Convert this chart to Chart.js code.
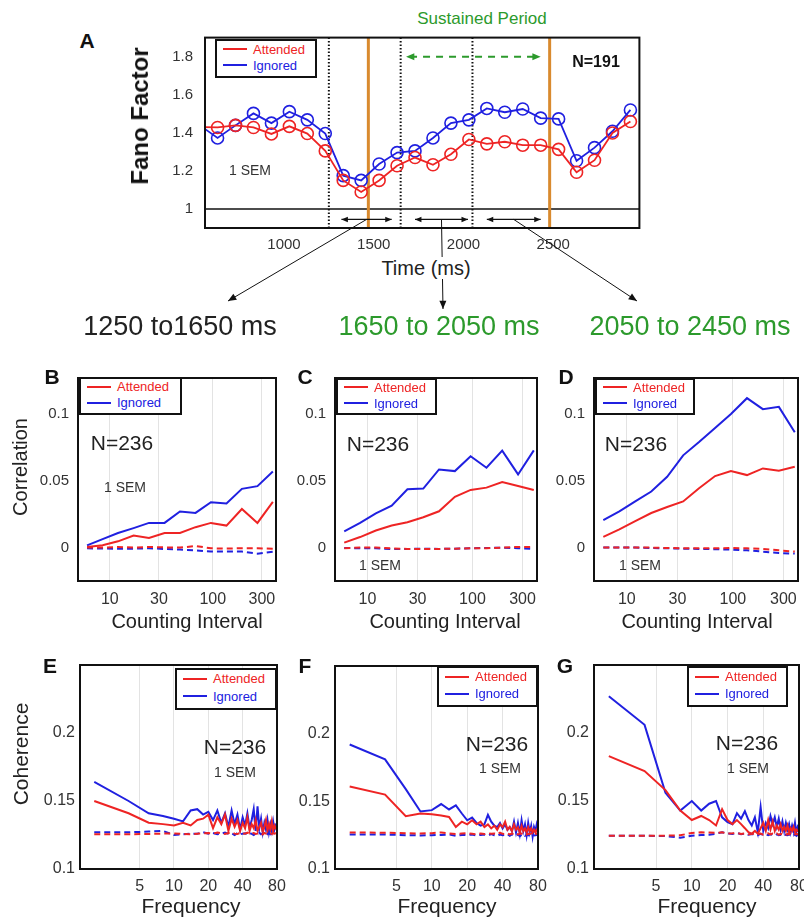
<!DOCTYPE html>
<html>
<head>
<meta charset="utf-8">
<script src="https://cdn.jsdelivr.net/npm/chart.js@4.4.1/dist/chart.umd.min.js"></script>
<style>
  html, body { margin: 0; padding: 0; background: #fff; overflow: hidden; }
  #page { position: relative; width: 804px; height: 921px; font-family: 'Liberation Sans', Arial, sans-serif; color: #222; }
  canvas { position: absolute; }
  .t { position: absolute; white-space: nowrap; line-height: 1; transform: translate(-50%, -50%); }
  .legend { position: absolute; box-sizing: border-box; border: 2px solid #111; background: #fff; font-size: 13px; }
  .legend .row { position: absolute; left: 6px; display: flex; align-items: center; line-height: 1; }
  .legend .sw { display: inline-block; width: 24px; height: 2px; margin-right: 6px; }
</style>
</head>
<body>
<div id="page"></div>
<script>
// ---- data ----
// A: Fano factor over the trial (ms)
const fanoTime = [530, 630, 730, 830, 930, 1030, 1130, 1230, 1330, 1430, 1530, 1630, 1730, 1830, 1930, 2030, 2130, 2230, 2330, 2430, 2530, 2630, 2730, 2830, 2930];
const fanoAttended = [1.43, 1.428, 1.439, 1.428, 1.394, 1.434, 1.396, 1.305, 1.150, 1.089, 1.150, 1.227, 1.270, 1.232, 1.287, 1.365, 1.342, 1.353, 1.335, 1.335, 1.313, 1.193, 1.256, 1.399, 1.459];
const fanoIgnored = [1.44, 1.373, 1.439, 1.502, 1.451, 1.511, 1.468, 1.396, 1.175, 1.150, 1.236, 1.296, 1.305, 1.373, 1.451, 1.468, 1.528, 1.508, 1.525, 1.477, 1.473, 1.253, 1.322, 1.408, 1.520];
const fanoXTicks = [1000, 1500, 2000, 2500];
const fanoYTicks = [1, 1.2, 1.4, 1.6, 1.8];
const windowEdges = [1250, 1650, 2050];
const eventTimes = [1470, 2480];
const windowArrowStart = [1320, 1730, 2130];
const windowArrowEnd = [1600, 2025, 2430];
const sustainedPeriod = [1680, 2430];

// B-D: spike count correlation vs counting interval (ms)
const countingInterval = [6, 8.5, 12, 17, 24, 34, 48, 68, 96, 136, 192, 272, 384];
const corrXTicks = [10, 30, 100, 300];
const corrYTicks = [0, 0.05, 0.1];
const corrB_att = [0.0005, 0.0017, 0.0047, 0.0091, 0.0072, 0.0109, 0.0109, 0.0153, 0.0185, 0.0165, 0.0289, 0.0185, 0.0343];
const corrB_ign = [0.0017, 0.0064, 0.0109, 0.0146, 0.0185, 0.0185, 0.027, 0.026, 0.034, 0.033, 0.044, 0.046, 0.057];
const corrB_attShuf = [0, 0, 0.0005, 0, 0.0005, 0.0002, 0, 0.0012, -0.0005, -0.0007, -0.0005, -0.0005, -0.0008];
const corrB_ignShuf = [-0.0005, -0.0007, -0.0008, -0.0008, -0.0005, -0.001, -0.0015, -0.002, -0.003, -0.003, -0.003, -0.0045, -0.003];
const corrC_att = [0.0037, 0.0079, 0.0128, 0.0165, 0.019, 0.0227, 0.0272, 0.038, 0.0432, 0.0449, 0.0491, 0.0462, 0.0432];
const corrC_ign = [0.0121, 0.0185, 0.0257, 0.0314, 0.0437, 0.0442, 0.0585, 0.0573, 0.0684, 0.0598, 0.0726, 0.0548, 0.0728];
const corrC_attShuf = [-0.0005, 0, 0, -0.0005, -0.001, -0.001, -0.001, -0.0008, -0.0005, -0.0005, 0, 0.0005, 0.0005];
const corrC_ignShuf = [-0.0003, -0.0005, -0.0005, -0.001, -0.001, -0.0008, -0.001, -0.0008, -0.0005, -0.0003, 0, -0.0005, -0.001];
const corrD_att = [0.0081, 0.0136, 0.0198, 0.0259, 0.0304, 0.0346, 0.0444, 0.0536, 0.0573, 0.0543, 0.0593, 0.0575, 0.0605];
const corrD_ign = [0.0205, 0.0272, 0.0346, 0.042, 0.053, 0.0691, 0.079, 0.0896, 0.1, 0.1119, 0.1037, 0.1054, 0.0864];
const corrD_attShuf = [0, 0, 0, 0, -0.0003, -0.0005, -0.0005, -0.0005, -0.0003, -0.0005, -0.001, -0.002, -0.003];
const corrD_ignShuf = [0, 0, 0, -0.0003, -0.0005, -0.0008, -0.001, -0.0012, -0.0015, -0.002, -0.003, -0.004, -0.0045];

// E-G: coherence vs frequency (Hz)
const frequency = [2, 4, 6, 8, 10, 12, 14, 16, 18, 20, 22, 24, 26, 28, 30, 32, 34, 36, 38, 40, 42, 44, 46, 48, 50, 52, 54, 56, 58, 60, 62, 64, 66, 68, 70, 72, 74, 76, 78, 80];
const cohXTicks = [5, 10, 20, 40, 80];
const cohYTicks = [0.1, 0.15, 0.2];
const cohE_att = [0.150, 0.141, 0.134, 0.133, 0.132, 0.134, 0.132, 0.136, 0.137, 0.140, 0.130, 0.138, 0.133, 0.140, 0.128, 0.137, 0.131, 0.136, 0.128, 0.134, 0.130, 0.138, 0.128, 0.133, 0.130, 0.136, 0.128, 0.131, 0.134, 0.127, 0.131, 0.136, 0.128, 0.133, 0.129, 0.135, 0.128, 0.132, 0.130, 0.131];
const cohE_ign = [0.164, 0.150, 0.141, 0.139, 0.137, 0.135, 0.143, 0.144, 0.140, 0.142, 0.136, 0.143, 0.134, 0.141, 0.131, 0.143, 0.133, 0.140, 0.129, 0.138, 0.132, 0.141, 0.130, 0.136, 0.144, 0.128, 0.146, 0.130, 0.137, 0.127, 0.134, 0.129, 0.136, 0.127, 0.133, 0.128, 0.135, 0.129, 0.132, 0.130];
const cohE_attShuf = [0.1255, 0.1255, 0.1258, 0.126, 0.1262, 0.1258, 0.1255, 0.126, 0.1262, 0.1265, 0.126, 0.1268, 0.1262, 0.1258, 0.1265, 0.127, 0.126, 0.1258, 0.1265, 0.1262, 0.126, 0.1268, 0.1258, 0.1262, 0.1265, 0.1258, 0.126, 0.1268, 0.1262, 0.1255, 0.1265, 0.126, 0.1258, 0.1266, 0.1262, 0.1258, 0.1264, 0.126, 0.1262, 0.126];
const cohE_ignShuf = [0.127, 0.127, 0.1275, 0.128, 0.125, 0.1255, 0.126, 0.126, 0.127, 0.126, 0.1265, 0.1255, 0.126, 0.1268, 0.1258, 0.1262, 0.125, 0.1265, 0.1255, 0.126, 0.1262, 0.1255, 0.1265, 0.1258, 0.125, 0.1262, 0.1258, 0.1266, 0.1255, 0.126, 0.1252, 0.1264, 0.1258, 0.126, 0.1255, 0.1262, 0.1258, 0.126, 0.1255, 0.126];
const cohF_att = [0.161, 0.155, 0.139, 0.141, 0.1405, 0.1395, 0.1385, 0.131, 0.135, 0.133, 0.136, 0.133, 0.135, 0.131, 0.133, 0.130, 0.132, 0.129, 0.133, 0.131, 0.135, 0.129, 0.131, 0.128, 0.133, 0.129, 0.131, 0.127, 0.132, 0.128, 0.130, 0.127, 0.131, 0.128, 0.130, 0.127, 0.129, 0.127, 0.129, 0.128];
const cohF_ign = [0.192, 0.181, 0.159, 0.1425, 0.1435, 0.148, 0.144, 0.147, 0.141, 0.136, 0.138, 0.134, 0.132, 0.133, 0.140, 0.135, 0.132, 0.131, 0.134, 0.130, 0.133, 0.129, 0.131, 0.128, 0.135, 0.127, 0.134, 0.126, 0.136, 0.128, 0.133, 0.125, 0.134, 0.127, 0.132, 0.124, 0.131, 0.128, 0.133, 0.129];
const cohF_attShuf = [0.127, 0.1268, 0.1265, 0.1262, 0.1265, 0.127, 0.1262, 0.1258, 0.1262, 0.1265, 0.126, 0.1255, 0.1262, 0.1258, 0.1265, 0.126, 0.1262, 0.1255, 0.1268, 0.126, 0.1258, 0.1264, 0.1255, 0.1262, 0.1258, 0.1265, 0.1255, 0.126, 0.1262, 0.1258, 0.1264, 0.1255, 0.126, 0.1258, 0.1262, 0.1255, 0.126, 0.1258, 0.1262, 0.126];
const cohF_ignShuf = [0.1255, 0.1255, 0.125, 0.1248, 0.125, 0.1252, 0.1255, 0.1245, 0.1252, 0.125, 0.1255, 0.1248, 0.1252, 0.1255, 0.1248, 0.1258, 0.125, 0.1245, 0.1255, 0.125, 0.1252, 0.1258, 0.1245, 0.1255, 0.125, 0.1248, 0.1255, 0.1242, 0.1252, 0.1258, 0.1245, 0.1252, 0.1248, 0.1255, 0.1245, 0.1252, 0.1248, 0.125, 0.1252, 0.1248];
const cohG_att = [0.183, 0.172, 0.158, 0.143, 0.136, 0.139, 0.136, 0.132, 0.144, 0.136, 0.133, 0.136, 0.133, 0.130, 0.127, 0.126, 0.128, 0.126, 0.130, 0.134, 0.128, 0.136, 0.129, 0.135, 0.128, 0.132, 0.129, 0.133, 0.128, 0.131, 0.128, 0.132, 0.127, 0.130, 0.128, 0.131, 0.127, 0.129, 0.128, 0.128];
const cohG_ign = [0.227, 0.206, 0.156, 0.143, 0.150, 0.143, 0.148, 0.150, 0.138, 0.1345, 0.133, 0.141, 0.137, 0.1425, 0.136, 0.132, 0.138, 0.127, 0.1455, 0.128, 0.134, 0.130, 0.139, 0.133, 0.138, 0.131, 0.137, 0.129, 0.135, 0.128, 0.134, 0.129, 0.133, 0.127, 0.132, 0.128, 0.134, 0.127, 0.131, 0.129];
const cohG_attShuf = [0.1245, 0.1245, 0.1245, 0.1248, 0.1265, 0.127, 0.1268, 0.1265, 0.127, 0.126, 0.1262, 0.1265, 0.1258, 0.1262, 0.1255, 0.1258, 0.1262, 0.1255, 0.126, 0.1252, 0.1258, 0.1262, 0.1255, 0.126, 0.1255, 0.1262, 0.1252, 0.1258, 0.1255, 0.126, 0.1252, 0.1258, 0.1255, 0.1262, 0.1252, 0.1258, 0.1255, 0.126, 0.1255, 0.1258];
const cohG_ignShuf = [0.1245, 0.1245, 0.1242, 0.123, 0.1245, 0.125, 0.1252, 0.126, 0.127, 0.1262, 0.1258, 0.1265, 0.1255, 0.126, 0.1252, 0.1258, 0.1255, 0.1248, 0.1258, 0.125, 0.1255, 0.1248, 0.1255, 0.125, 0.1245, 0.1255, 0.1248, 0.1252, 0.1245, 0.1255, 0.125, 0.1248, 0.1255, 0.1245, 0.1252, 0.1248, 0.1255, 0.1245, 0.125, 0.1248];

// ---- style ----
const RED = '#ee2424';
const BLUE = '#2020e0';
const GREEN = '#2c9a2c';
const ORANGE = '#d98a2e';
const FONT = "'Liberation Sans', Arial, sans-serif";
Chart.defaults.font.family = FONT;

const page = document.getElementById('page');

function addText(txt, cx, cy, css) {
  const d = document.createElement('div');
  d.className = 't';
  d.textContent = txt;
  d.style.left = cx + 'px';
  d.style.top = cy + 'px';
  Object.assign(d.style, css || {});
  page.appendChild(d);
  return d;
}

function addLegend(left, top, w, h) {
  const box = document.createElement('div');
  box.className = 'legend';
  box.style.left = left + 'px';
  box.style.top = top + 'px';
  box.style.width = w + 'px';
  box.style.height = h + 'px';
  const rows = [['Attended', RED, 0.27], ['Ignored', BLUE, 0.69]];
  rows.forEach(([name, col, f]) => {
    const r = document.createElement('div');
    r.className = 'row';
    r.style.top = (h * f - 9) + 'px';
    r.innerHTML = '<span class="sw" style="background:' + col + '"></span><span style="color:' + col + '">' + name + '</span>';
    box.appendChild(r);
  });
  page.appendChild(box);
}

function line(ctx, x1, y1, x2, y2) {
  ctx.beginPath(); ctx.moveTo(x1, y1); ctx.lineTo(x2, y2); ctx.stroke();
}

function head(ctx, x1, y1, x2, y2, size) {
  const a = Math.atan2(y2 - y1, x2 - x1);
  ctx.beginPath();
  ctx.moveTo(x2, y2);
  ctx.lineTo(x2 - size * Math.cos(a - 0.4), y2 - size * Math.sin(a - 0.4));
  ctx.lineTo(x2 - size * Math.cos(a + 0.4), y2 - size * Math.sin(a + 0.4));
  ctx.closePath();
  ctx.fill();
}

// black frame around every plot
const framePlugin = {
  id: 'frame',
  afterDraw(chart) {
    const a = chart.chartArea, ctx = chart.ctx;
    ctx.save();
    ctx.strokeStyle = '#111';
    ctx.lineWidth = 2;
    ctx.strokeRect(a.left, a.top, a.right - a.left, a.bottom - a.top);
    ctx.restore();
  }
};

// window markers, arrows and connectors of panel A
const fanoMarks = {
  id: 'fanoMarks',
  beforeDatasetsDraw(chart) {
    const { ctx, chartArea: a, scales: { x, y } } = chart;
    ctx.save();
    ctx.strokeStyle = '#111';
    ctx.lineWidth = 1.5;
    const y1 = y.getPixelForValue(1);
    line(ctx, a.left, y1, a.right, y1);
    ctx.lineWidth = 2;
    ctx.setLineDash([1.5, 2]);
    windowEdges.forEach(t => {
      const px = x.getPixelForValue(t);
      line(ctx, px, a.top, px, a.bottom);
    });
    ctx.setLineDash([]);
    ctx.strokeStyle = ORANGE;
    ctx.lineWidth = 3;
    eventTimes.forEach(t => {
      const px = x.getPixelForValue(t);
      line(ctx, px, a.top, px, a.bottom);
    });
    ctx.restore();
  },
  afterDraw(chart) {
    const { ctx, scales: { x, y } } = chart;
    ctx.save();
    // black double arrows for the analysis windows
    ctx.strokeStyle = '#111'; ctx.fillStyle = '#111'; ctx.lineWidth = 1.2;
    const ya = y.getPixelForValue(0.945);
    const ox = chart.canvas.offsetLeft, oy = chart.canvas.offsetTop;
    const labelTips = [[228, 301], [443, 309], [637, 301]];
    windowArrowStart.forEach((s, i) => {
      const p1 = x.getPixelForValue(s), p2 = x.getPixelForValue(windowArrowEnd[i]);
      line(ctx, p1, ya, p2, ya);
      head(ctx, p2, ya, p1, ya, 7);
      head(ctx, p1, ya, p2, ya, 7);
      // connector down to the window label
      const mid = (p1 + p2) / 2;
      const tx = labelTips[i][0] - ox, ty = labelTips[i][1] - oy;
      ctx.lineWidth = 1;
      line(ctx, mid, ya, tx, ty);
      head(ctx, mid, ya, tx, ty, 9);
      ctx.lineWidth = 1.2;
    });
    // green dashed arrow: sustained period
    ctx.strokeStyle = GREEN; ctx.fillStyle = GREEN; ctx.lineWidth = 2;
    const yg = y.getPixelForValue(1.8);
    const g1 = x.getPixelForValue(sustainedPeriod[0]), g2 = x.getPixelForValue(sustainedPeriod[1]);
    ctx.setLineDash([7, 6]);
    line(ctx, g1 + 4, yg, g2 - 4, yg);
    ctx.setLineDash([]);
    head(ctx, g2, yg, g1, yg, 9);
    head(ctx, g1, yg, g2, yg, 9);
    ctx.restore();
  }
};

function axis(type, min, max, ticks, pos, size, pad, fontSize, grid) {
  return {
    type, min, max, position: pos,
    afterBuildTicks: s => { s.ticks = ticks.map(v => ({ value: v })); },
    afterFit: s => {
      if (pos === 'bottom') { s.height = size; s.paddingLeft = 0; s.paddingRight = 0; }
      else { s.width = size; s.paddingTop = 0; s.paddingBottom = 0; }
    },
    ticks: { callback: v => String(v), padding: pad, color: '#333', autoSkip: false, maxRotation: 0, font: { size: fontSize } },
    grid: grid ? { color: '#e3e3e3', lineWidth: 1, drawTicks: false } : { display: false, drawTicks: false },
    border: { display: false }
  };
}

// box = [left, top, right, bottom] of the plot area on the page
function panel(box, x, y, datasets, extra) {
  extra = extra || {};
  const yW = 60, padT = 4, padR = extra.padR || 12, xH = extra.xH || 32, padB = extra.padB || 0;
  const c = document.createElement('canvas');
  c.width = box[2] - box[0] + yW + padR;
  c.height = box[3] - box[1] + padT + xH + padB;
  c.style.left = (box[0] - yW) + 'px';
  c.style.top = (box[1] - padT) + 'px';
  page.appendChild(c);
  return new Chart(c, {
    type: 'line',
    data: { datasets },
    options: {
      responsive: false,
      animation: false,
      devicePixelRatio: 1,
      layout: { padding: { top: padT, right: padR, bottom: padB, left: 0 } },
      plugins: { legend: { display: false }, tooltip: { enabled: false } },
      scales: { x, y }
    },
    plugins: [framePlugin].concat(extra.plugins || [])
  });
}

function series(xs, ys, color, dashed) {
  return {
    data: xs.map((v, i) => ({ x: v, y: ys[i] })),
    borderColor: color,
    borderWidth: 2,
    borderDash: dashed ? [6, 4] : [],
    pointRadius: 0,
    tension: 0
  };
}

function fanoSeries(ys, color) {
  return {
    data: fanoTime.map((t, i) => ({ x: t, y: ys[i] })),
    borderColor: color,
    borderWidth: 1.8,
    pointStyle: 'circle',
    pointRadius: ctx => (ctx.raw && ctx.raw.x < 560 ? 0 : 6),
    pointBorderWidth: 1.6,
    pointBorderColor: color,
    pointBackgroundColor: 'rgba(0,0,0,0)',
    tension: 0
  };
}

// ---- panel A ----
panel([205, 34, 643, 228],
  axis('linear', 560, 2980, fanoXTicks, 'bottom', 50, 8, 15, false),
  axis('linear', 0.9, 1.9, fanoYTicks, 'left', 60, 12, 15, false),
  [fanoSeries(fanoAttended, RED), fanoSeries(fanoIgnored, BLUE)],
  { padR: 4, padB: 60, xH: 50, plugins: [fanoMarks] });

// ---- panels B-D ----
const corrPanels = [
  [[78, 378, 276, 581], corrB_att, corrB_ign, corrB_attShuf, corrB_ignShuf],
  [[335, 378, 537, 581], corrC_att, corrC_ign, corrC_attShuf, corrC_ignShuf],
  [[594, 378, 798, 581], corrD_att, corrD_ign, corrD_attShuf, corrD_ignShuf]
];
corrPanels.forEach(([box, att, ign, attS, ignS]) => {
  panel(box,
    axis('logarithmic', 4.9, 412, corrXTicks, 'bottom', 32, 9, 16, true),
    axis('linear', -0.025, 0.127, corrYTicks, 'left', 60, 9, 15, false),
    [series(countingInterval, attS, RED, true), series(countingInterval, ignS, BLUE, true),
     series(countingInterval, att, RED, false), series(countingInterval, ign, BLUE, false)]);
});

// ---- panels E-G ----
const cohPanels = [
  [[80, 665, 277, 869], cohE_att, cohE_ign, cohE_attShuf, cohE_ignShuf],
  [[335, 666, 538, 869], cohF_att, cohF_ign, cohF_attShuf, cohF_ignShuf],
  [[594, 665, 799, 869], cohG_att, cohG_ign, cohG_attShuf, cohG_ignShuf]
];
cohPanels.forEach(([box, att, ign, attS, ignS]) => {
  panel(box,
    axis('logarithmic', 1.5, 80, cohXTicks, 'bottom', 32, 8, 16, true),
    axis('linear', 0.1, 0.25, cohYTicks, 'left', 60, 5, 16, false),
    [series(frequency, attS, RED, true), series(frequency, ignS, BLUE, true),
     series(frequency, att, RED, false), series(frequency, ign, BLUE, false)]);
});

// ---- legends ----
addLegend(215, 39, 102, 39);
addLegend(79, 377, 103, 38);
addLegend(336, 378, 101, 37);
addLegend(595, 378, 100, 37);
addLegend(175, 668, 102, 42);
addLegend(437, 666, 101, 41);
addLegend(687, 666, 101, 41);

// ---- text ----
const letterCss = { fontWeight: 'bold', fontSize: '21px', color: '#111' };
addText('A', 87, 40, letterCss);
addText('B', 52, 376, letterCss);
addText('C', 305, 376, letterCss);
addText('D', 566, 376, letterCss);
addText('E', 50, 665, letterCss);
addText('F', 305, 665, letterCss);
addText('G', 565, 665, letterCss);

addText('Sustained Period', 482, 18, { fontSize: '17px', color: GREEN });
addText('N=191', 596, 62, { fontSize: '16px', fontWeight: 'bold', color: '#111' });
addText('1 SEM', 250, 170, { fontSize: '14px', color: '#333' });
addText('Fano Factor', 140, 116, { fontSize: '24px', fontWeight: 'bold', color: '#111', transform: 'translate(-50%, -50%) rotate(-90deg)' });
addText('Time (ms)', 426, 268, { fontSize: '20px', background: '#fff', padding: '1px 2px' });

addText('1250 to1650 ms', 180, 326, { fontSize: '27px', color: '#222' });
addText('1650 to 2050 ms', 439, 326, { fontSize: '27px', color: GREEN });
addText('2050 to 2450 ms', 690, 326, { fontSize: '27px', color: GREEN });

addText('Correlation', 20, 467, { fontSize: '20px', transform: 'translate(-50%, -50%) rotate(-90deg)' });
addText('Coherence', 20, 754, { fontSize: '21px', transform: 'translate(-50%, -50%) rotate(-90deg)' });
[187, 445, 697].forEach(cx => addText('Counting Interval', cx, 621, { fontSize: '20px' }));
[191, 447, 707].forEach(cx => addText('Frequency', cx, 905, { fontSize: '21px' }));

const nPos = [[122, 442], [378, 443], [636, 443], [235, 746], [497, 743], [747, 742]];
nPos.forEach(([cx, cy]) => addText('N=236', cx, cy, { fontSize: '21px', color: '#222' }));
const semPos = [[125, 487], [380, 565], [640, 565], [235, 772], [500, 768], [748, 768]];
semPos.forEach(([cx, cy]) => addText('1 SEM', cx, cy, { fontSize: '14px', color: '#333' }));
</script>
</body>
</html>
